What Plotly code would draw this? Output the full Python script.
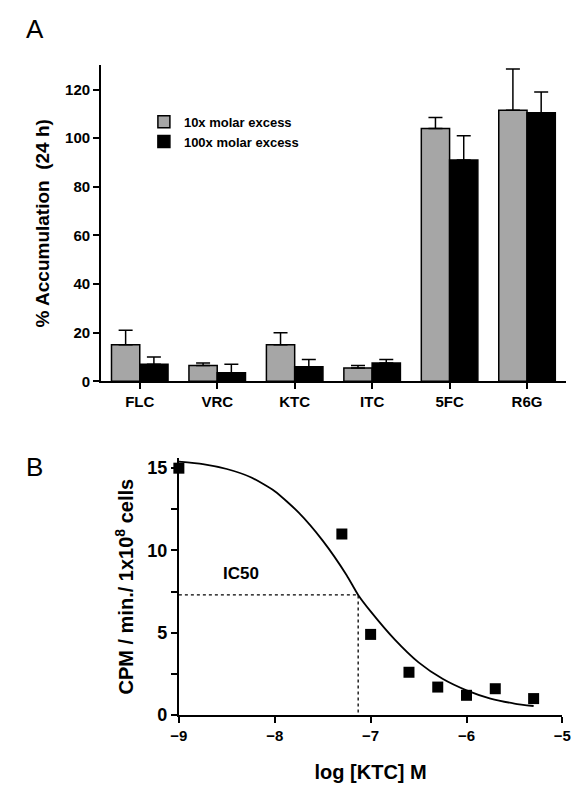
import plotly.graph_objects as go

drugs = ["FLC", "VRC", "KTC", "ITC", "5FC", "R6G"]
acc_10x = [15, 6.5, 15, 5.5, 104, 111.5]
err_10x = [6, 1, 5, 1, 4.5, 17]
acc_100x = [7, 3.5, 6, 7.5, 91, 110.5]
err_100x = [3, 3.5, 3, 1.5, 10, 8.5]

log_ktc = [-9, -7.3, -7, -6.6, -6.3, -6, -5.7, -5.3]
cpm = [15, 11, 4.9, 2.6, 1.7, 1.2, 1.6, 1.0]

# fitted curve
fit_x = [-9, -8.75, -8.5, -8.25, -8, -7.75, -7.5, -7.25, -7.13, -7, -6.75, -6.5, -6.25, -6, -5.75, -5.5, -5.3]
fit_y = [15.4, 15.25, 14.95, 14.45, 13.6, 12.3, 10.6, 8.5, 7.3, 6.3, 4.6, 3.2, 2.2, 1.5, 1.0, 0.7, 0.55]

ic50_x = -7.13
ic50_y = 7.3

font = "Liberation Sans"
bold = dict(family=font, size=15, color="black", weight="bold")

fig = go.Figure()
fig.add_trace(go.Bar(
    x=drugs, y=acc_10x, name="10x molar excess",
    marker=dict(color="#a6a6a6", line=dict(color="black", width=1.5)),
    error_y=dict(type="data", symmetric=False, array=err_10x, arrayminus=[0] * 6,
                 color="black", thickness=1.5, width=7),
))
fig.add_trace(go.Bar(
    x=drugs, y=acc_100x, name="100x molar excess",
    marker=dict(color="black", line=dict(color="black", width=1.5)),
    error_y=dict(type="data", symmetric=False, array=err_100x, arrayminus=[0] * 6,
                 color="black", thickness=1.5, width=7),
))

fig.add_trace(go.Scatter(
    x=fit_x, y=fit_y, mode="lines", line=dict(color="black", width=1.8, shape="spline", smoothing=0.6),
    xaxis="x2", yaxis="y2", showlegend=False,
))
fig.add_trace(go.Scatter(
    x=log_ktc, y=cpm, mode="markers",
    marker=dict(symbol="square", size=11, color="black"),
    xaxis="x2", yaxis="y2", showlegend=False, cliponaxis=False,
))
fig.add_trace(go.Scatter(
    x=[-9, ic50_x, ic50_x], y=[ic50_y, ic50_y, 0], mode="lines",
    line=dict(color="black", width=1.3, dash="dot"),
    xaxis="x2", yaxis="y2", showlegend=False,
))

ax = dict(showline=True, linecolor="black", linewidth=1.8, ticks="outside",
          tickcolor="black", tickwidth=1.8, ticklen=6, showgrid=False,
          zeroline=False, tickfont=bold)

fig.update_layout(
    width=582, height=800,
    margin=dict(l=0, r=0, t=0, b=0),
    plot_bgcolor="white", paper_bgcolor="white",
    barmode="group", bargap=0.27, bargroupgap=0,
    legend=dict(x=0.225, y=0.875, xanchor="left", yanchor="top",
                font=dict(family=font, size=13, color="black", weight="bold"),
                bgcolor="rgba(0,0,0,0)", tracegroupgap=0),
    xaxis=dict(ax, domain=[0.149, 0.973], anchor="y"),
    yaxis=dict(ax, domain=[0.5275, 0.9275], range=[0, 130], dtick=20, anchor="x",
               title=dict(text="% Accumulation  (24 h)", standoff=10,
                          font=dict(family=font, size=19, color="black", weight="bold"))),
    xaxis2=dict(ax, domain=[0.287, 0.967], range=[-9, -5], dtick=1, anchor="y2",
                title=dict(text="log [KTC] M", standoff=22,
                           font=dict(family=font, size=20, color="black", weight="bold"))),
    yaxis2=dict(ax, domain=[0.105, 0.43], range=[0, 15.6], tickvals=[0, 5, 10, 15],
                tickfont=dict(bold, size=18),
                minor=dict(tickvals=[2.5, 7.5, 12.5], ticks="outside", ticklen=6,
                           tickcolor="black", tickwidth=1.8),
                anchor="x2",
                title=dict(text="CPM / min./ 1x10<sup>8</sup> cells", standoff=8,
                           font=dict(family=font, size=20, color="black", weight="bold"))),
    annotations=[
        dict(text="A", x=0.012, y=0.995, xref="paper", yref="paper", xanchor="left",
             yanchor="top", showarrow=False, font=dict(family=font, size=26, color="black")),
        dict(text="B", x=0.012, y=0.44, xref="paper", yref="paper", xanchor="left",
             yanchor="top", showarrow=False, font=dict(family=font, size=26, color="black")),
        dict(text="IC50", x=-8.35, y=8.6, xref="x2", yref="y2", showarrow=False,
             font=dict(family=font, size=17, color="black", weight="bold")),
    ],
)

fig.write_html("out.html")
